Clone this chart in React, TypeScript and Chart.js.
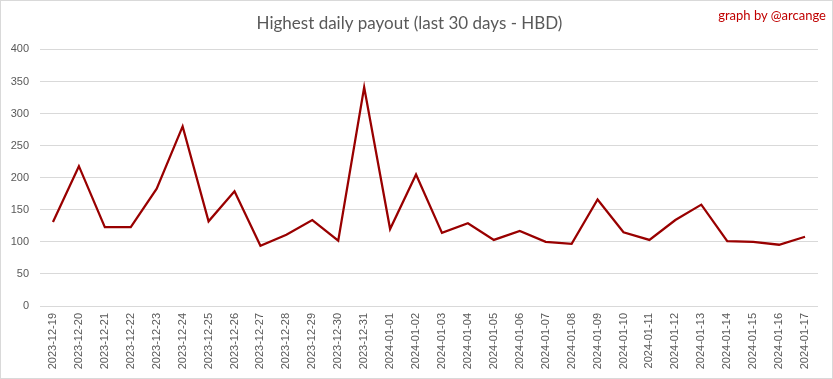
import React, { useEffect, useRef } from "react";
import { Chart, registerables } from "chart.js";

Chart.register(...registerables);

const categories = [
  "2023-12-19", "2023-12-20", "2023-12-21", "2023-12-22", "2023-12-23", "2023-12-24",
  "2023-12-25", "2023-12-26", "2023-12-27", "2023-12-28", "2023-12-29", "2023-12-30",
  "2023-12-31", "2024-01-01", "2024-01-02", "2024-01-03", "2024-01-04", "2024-01-05",
  "2024-01-06", "2024-01-07", "2024-01-08", "2024-01-09", "2024-01-10", "2024-01-11",
  "2024-01-12", "2024-01-13", "2024-01-14", "2024-01-15", "2024-01-16", "2024-01-17",
];

const payout = [
  131, 218, 123, 123, 183, 280, 132, 179, 94, 111, 134, 102,
  341, 120, 205, 114, 129, 103, 117, 100, 97, 166, 115, 103,
  134, 158, 101, 100, 95.5, 108,
];

const yTicks = [0, 50, 100, 150, 200, 250, 300, 350, 400];

const chartTitle = "Highest daily payout (last 30 days - HBD)";
const credit = "graph by @arcange";

export default function App() {
  const canvasRef = useRef<HTMLCanvasElement | null>(null);

  useEffect(() => {
    document.body.style.margin = "0";
    const canvas = canvasRef.current;
    if (!canvas) return;
    const chart = new Chart(canvas, {
      type: "line",
      data: {
        labels: categories,
        datasets: [
          {
            label: "Highest daily payout",
            data: payout,
            borderColor: "#990000",
            backgroundColor: "#990000",
            borderWidth: 2.25,
            pointRadius: 0,
            tension: 0,
            fill: false,
          },
        ],
      },
      options: {
        animation: false,
        responsive: false,
        maintainAspectRatio: false,
        layout: { padding: { left: 0, right: 14, top: 0, bottom: 0 } },
        plugins: {
          legend: { display: false },
          tooltip: { enabled: false },
          title: {
            display: true,
            text: chartTitle,
            color: "#595959",
            font: { family: "Lato", size: 17, weight: "normal" },
            padding: { top: 12, bottom: 16 },
          },
        },
        scales: {
          x: {
            offset: true,
            grid: { display: false, drawTicks: false },
            border: { display: false },
            ticks: {
              color: "#595959",
              font: { family: "Liberation Sans", size: 11 },
              minRotation: 90,
              maxRotation: 90,
              autoSkip: false,
              padding: 7,
            },
            afterFit: (scale: any) => {
              scale.height = 72;
            },
          },
          y: {
            min: 0,
            max: 400,
            afterBuildTicks: (scale: any) => {
              scale.ticks = yTicks.map((v) => ({ value: v }));
            },
            grid: { color: "#d9d9d9", lineWidth: 1, drawTicks: false },
            border: { display: false },
            ticks: {
              color: "#595959",
              font: { family: "Liberation Sans", size: 11 },
              padding: 11,
            },
            afterFit: (scale: any) => {
              scale.width = 39;
            },
          },
        },
      },
    });
    return () => chart.destroy();
  }, []);

  return (
    <div
      style={{
        position: "relative",
        width: 833,
        height: 379,
        boxSizing: "border-box",
        border: "1px solid #d9d9d9",
        background: "#ffffff",
      }}
    >
      <canvas
        ref={canvasRef}
        width={831}
        height={377}
        style={{ position: "absolute", left: 0, top: 0, width: 831, height: 377 }}
      />
      <div
        style={{
          position: "absolute",
          right: 6,
          top: 7,
          color: "#c00000",
          fontFamily: "Lato",
          fontSize: 13,
          lineHeight: "15px",
        }}
      >
        {credit}
      </div>
    </div>
  );
}
